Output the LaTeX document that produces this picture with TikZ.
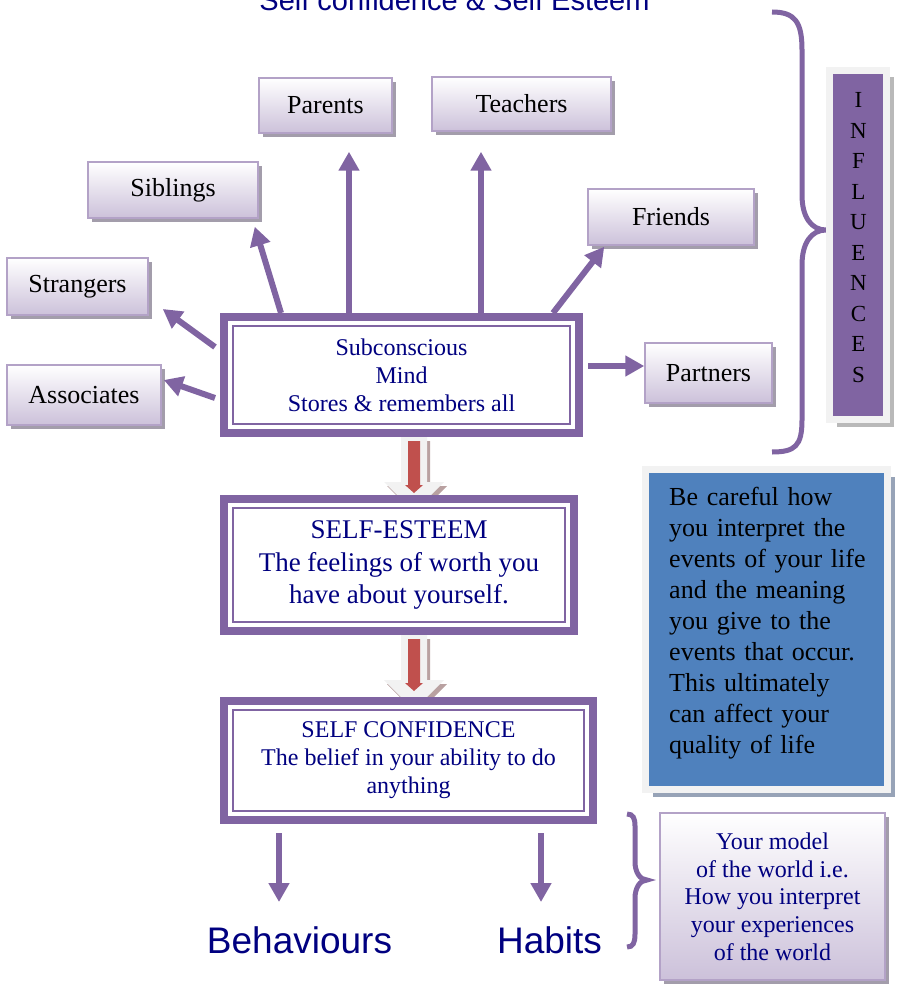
\documentclass[tikz,border=0pt]{standalone}
\usepackage{fontspec}
\setmainfont{Liberation Serif}
\setsansfont{Liberation Sans}
\usetikzlibrary{arrows.meta,shadows,calc}

\definecolor{purp}{HTML}{8064A2}
\definecolor{ink}{HTML}{000080}
\definecolor{lpurp}{HTML}{B3A2C7}
\definecolor{lav}{HTML}{CCC1DA}
\definecolor{sblue}{HTML}{4F81BD}
\definecolor{sred}{HTML}{C0504D}
\definecolor{paleframe}{HTML}{F2F2F2}
\definecolor{shgray}{HTML}{A39DAB}
\definecolor{brshadow}{HTML}{B9A1A1}
\definecolor{bshadow}{HTML}{97A3B7}

\newcommand{\fs}[2]{\fontsize{#1}{#2}\selectfont}

% block arrow between the mind boxes, #1 = top of the shaft
\newcommand{\downblock}[1]{%
  \begin{scope}[shift={(#1)}]
    \fill[brshadow] (-10,4) -- (16,4) -- (16,49) -- (33,49) -- (3,79) -- (-27,49) -- (-10,49) -- cycle;
    \fill[paleframe] (-13,0) -- (13,0) -- (13,45) -- (30,45) -- (0,75) -- (-30,45) -- (-13,45) -- cycle;
    \fill[sred] (-6,4) -- (6,4) -- (6,48) -- (9,48) -- (0,56) -- (-9,48) -- (-6,48) -- cycle;
  \end{scope}}

\begin{document}
\begin{tikzpicture}[x=1pt, y=-1pt,
infbox/.style={draw=lpurp, line width=1.5pt, top color=white, bottom color=lav, inner sep=0pt, font=\fs{26}{30},
  drop shadow={shadow xshift=4pt, shadow yshift=-4pt, fill=shgray, opacity=1}},
mindbox/.style={draw=purp, line width=8pt, fill=white, text=ink, align=center, inner sep=0pt},
framebox/.style={draw=paleframe, line width=7pt, inner sep=0pt,
  drop shadow={shadow xshift=7pt, shadow yshift=-7pt, fill=#1, opacity=1}},
infarrow/.style={draw=purp, line width=6pt, -{Triangle[length=19pt, width=20pt]}},
curly/.style={draw=purp, line width=5pt},
]
\useasboundingbox (0,0) rectangle (897,987);

\node[font=\sffamily\fs{29}{34}, text=ink, anchor=base, inner sep=0pt] (title) at (454.5,11) {Self confidence \& Self Esteem};

% the influences
\node[infbox, minimum width=133pt, minimum height=55pt] (parents) at (325.5,105.5) {Parents};
\node[infbox, minimum width=179pt, minimum height=54pt] (teachers) at (521.5,104) {Teachers};
\node[infbox, minimum width=170pt, minimum height=56pt] (siblings) at (173,190) {Siblings};
\node[infbox, minimum width=141pt, minimum height=57pt] (strangers) at (77.5,286.5) {Strangers};
\node[infbox, minimum width=154pt, minimum height=60pt] (associates) at (84,395) {Associates};
\node[infbox, minimum width=166pt, minimum height=56pt] (friends) at (671,217) {Friends};
\node[infbox, minimum width=127pt, minimum height=60pt] (partners) at (708.5,373) {Partners};

% the three mind boxes
\node[mindbox, minimum width=355pt, minimum height=116pt, font=\fs{24}{28}] (sub) at (401.5,375)
  {Subconscious\\Mind\\Stores \& remembers all};
\downblock{$(sub.south)+(12.5,0)$}
\node[mindbox, minimum width=350pt, minimum height=132pt, font=\fs{27}{32.5}] (est) at (399,565)
  {SELF-ESTEEM\\The feelings of worth you\\have about yourself.};
\downblock{$(est.south)+(15,0)$}
\node[mindbox, minimum width=369pt, minimum height=119pt, font=\fs{24}{28}] (conf) at (408.5,760.5)
  {SELF CONFIDENCE\\The belief in your ability to do\\anything};
\foreach \boxname in {sub,est,conf}
  \draw[draw=purp, line width=2pt] ($(\boxname.north west)+(13,13)$) rectangle ($(\boxname.south east)+(-13,-13)$);

\draw[infarrow] ($(sub.west)+(-5,-28)$) -- ($(strangers.east)+(14,22.5)$);
\draw[infarrow] ($(sub.west)+(-5,23)$) -- ($(associates.east)+(2,-15)$);
\draw[infarrow] ($(sub.north)+(-120.5,0)$) -- ($(siblings.south east)+(-4,8)$);
\draw[infarrow] ($(sub.north)+(-52.5,0)$) -- ($(parents.south)+(23.5,18)$);
\draw[infarrow] ($(sub.north)+(79.5,0)$) -- ($(teachers.south)+(-40.5,20)$);
\draw[infarrow] ($(sub.north)+(151.5,0)$) -- ($(friends.south west)+(17,1)$);
\draw[infarrow] ($(sub.east)+(5,-9)$) -- ($(partners.west)+(0,-7)$);

% influences column
\draw[curly] (772,12) .. controls (795,12) and (802,22) .. (802,50) -- (802,195)
  .. controls (802,218) and (812,230) .. (826,230) .. controls (812,230) and (802,242) .. (802,265)
  -- (802,420) .. controls (802,446) and (795,452) .. (772,452);
\node[framebox=gray!55, fill=purp, minimum width=57pt, minimum height=349pt] (infl) at (858,245) {};
\node[font=\fs{23}{30.5}, align=center, inner sep=0pt] (infltext) at (858.5,237.5)
  {I\\N\\F\\L\\U\\E\\N\\C\\E\\S};

\node[framebox=bshadow, fill=sblue, minimum width=242pt, minimum height=320pt] (note) at (766.5,629.5) {};
\node[font=\fs{26}{31}, text width=200pt, align=left, anchor=north west, inner sep=0pt] (notetext) at (669,487)
  {Be careful how\\you interpret the\\events of your life\\and the meaning\\you give to the\\events that occur.\\This ultimately\\can affect your\\quality of life};

% outcomes
\coordinate (behtip) at (279,902);
\coordinate (habtip) at (541,902);
\draw[infarrow] ($(conf.south -| behtip)+(0,9)$) -- (behtip);
\draw[infarrow] ($(conf.south -| habtip)+(0,9)$) -- (habtip);
\node[font=\sffamily\fs{37}{44}, text=ink, anchor=base, inner sep=0pt] (beh) at (299.5,953) {Behaviours};
\node[font=\sffamily\fs{37}{44}, text=ink, anchor=base, inner sep=0pt] (hab) at (549.5,953) {Habits};

\draw[curly] (627,814) .. controls (633,814) and (635,818) .. (635,826) -- (635,862)
  .. controls (635,872) and (640,880) .. (647,880) .. controls (640,880) and (635,888) .. (635,898)
  -- (635,934) .. controls (635,943) and (633,947) .. (627,947);
\node[infbox, text=ink, align=center, font=\fs{24}{27.7}, minimum width=225pt, minimum height=167pt] (model) at (772.5,896.5)
  {Your model\\of the world i.e.\\How you interpret\\your experiences\\of the world};
\end{tikzpicture}
\end{document}
